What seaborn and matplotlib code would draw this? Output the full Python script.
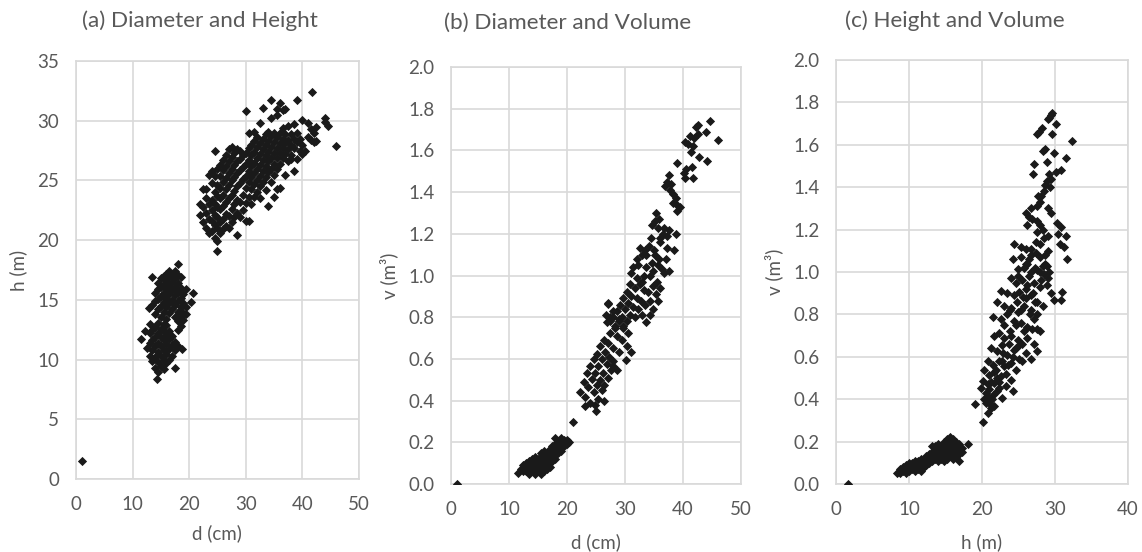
import numpy as np
import pandas as pd
import matplotlib
matplotlib.use("Agg")
import matplotlib.pyplot as plt
import seaborn as sns

# ---------------- (a) diameter vs height ----------------
a_d = [1.0,
       # tall trees
       22, 22, 22.5, 22.5, 22.5, 23, 23, 23, 23, 23.5, 23.5, 23.5, 23.5,
       24, 24, 24, 24, 24, 24, 24.5, 24.5, 24.5, 24.5, 24.5, 24.5, 24.5,
       25, 25, 25, 25, 25, 25, 25, 25, 25.5, 25.5, 25.5, 25.5, 25.5, 25.5, 25.5,
       26, 26, 26, 26, 26, 26, 26, 26.5, 26.5, 26.5, 26.5, 26.5, 26.5, 26.5,
       27, 27, 27, 27, 27, 27, 27, 27.5, 27.5, 27.5, 27.5, 27.5, 27.5, 27.5,
       28, 28, 28, 28, 28, 28, 28.5, 28.5, 28.5, 28.5, 28.5, 28.5, 28.5,
       29, 29, 29, 29, 29, 29, 29.5, 29.5, 29.5, 29.5, 29.5,
       30, 30, 30, 30, 30, 30, 30, 30.5, 30.5, 30.5, 30.5, 30.5, 30.5, 30.5,
       31, 31, 31, 31, 31, 31, 31.5, 31.5, 31.5, 31.5, 31.5, 31.5, 31.5,
       32, 32, 32, 32, 32, 32, 32.5, 32.5, 32.5, 32.5, 32.5, 32.5, 32.5,
       33, 33, 33, 33, 33, 33, 33.5, 33.5, 33.5, 33.5, 33.5, 33.5,
       34, 34, 34, 34, 34, 34, 34.5, 34.5, 34.5, 34.5, 34.5, 34.5, 34.5,
       35, 35, 35, 35, 35, 35, 35.5, 35.5, 35.5, 35.5, 35.5, 35.5, 35.5,
       36, 36, 36, 36, 36, 36, 36.5, 36.5, 36.5, 36.5, 36.5,
       37, 37, 37, 37, 37, 37.5, 37.5, 37.5, 37.5, 38, 38, 38, 38,
       38.5, 38.5, 38.5, 38.5, 39, 39, 39, 39, 39.5, 39.5, 40, 40, 40, 40.5,
       41, 41, 41.5, 41.5, 41.7, 42, 42, 42.5, 42.5, 44, 44, 44.6, 46,
       # short trees, upper group
       12.9, 13.5, 13.5, 14, 14, 14, 14.5, 14.5, 14.5, 14.5,
       15, 15, 15, 15, 15, 15.5, 15.5, 15.5, 15.5, 15.5,
       16, 16, 16, 16, 16, 16, 16.5, 16.5, 16.5, 16.5, 16.5, 16.5,
       17, 17, 17, 17, 17, 17.5, 17.5, 17.5, 17.5, 17.5, 17.5,
       18, 18, 18, 18, 18, 18, 18, 18.5, 18.5, 18.5, 18.5, 18.5, 18.5,
       19, 19, 19, 19, 19.5, 19.5, 19.5, 20.3, 20.6,
       # short trees, lower group
       11.5, 12.2, 12.5, 13, 13, 13, 13, 13.5, 13.5, 13.5, 13.5,
       14, 14, 14, 14, 14, 14.4, 14.5, 14.5, 14.5, 14.5, 14.5, 14.5,
       15, 15, 15, 15, 15, 15.5, 15.5, 15.5, 15.5, 15.5, 15.5,
       16, 16, 16, 16, 16, 16.5, 16.5, 16.5, 16.5, 17, 17, 17,
       17.5, 17.5, 17.5, 18, 18, 18.7]
a_h = [1.5,
       22.1, 23.0, 21.5, 22.8, 24.3, 21.0, 22.3, 23.5, 24.3, 20.6, 21.8, 23.0, 25.5,
       20.8, 21.6, 22.5, 23.4, 24.8, 25.8, 20.2, 21.3, 22.1, 23.0, 24.0, 25.4, 27.5,
       19.1, 19.9, 21.0, 21.9, 22.8, 23.7, 24.6, 26.0, 20.6, 21.5, 22.6, 23.5, 24.4, 25.4, 26.3,
       20.9, 21.8, 22.9, 23.8, 24.9, 25.9, 26.7, 21.2, 22.2, 23.2, 24.3, 25.2, 26.2, 27.1,
       21.0, 22.0, 23.5, 24.6, 25.6, 26.6, 27.6, 21.5, 22.6, 23.8, 25.0, 26.0, 27.0, 27.8,
       21.9, 23.0, 24.1, 25.3, 26.3, 27.3, 20.4, 22.3, 23.4, 24.5, 25.6, 26.6, 27.6,
       21.9, 23.2, 24.8, 25.9, 26.8, 27.5, 22.5, 23.8, 25.1, 26.1, 27.1,
       21.6, 23.1, 24.4, 25.4, 26.4, 27.3, 30.8, 21.6, 23.6, 24.9, 25.8, 26.7, 27.7, 29.0,
       23.0, 24.3, 25.3, 26.2, 27.1, 28.0, 23.6, 24.7, 25.6, 26.5, 27.4, 28.3, 29.1,
       24.0, 25.0, 26.0, 26.9, 27.8, 28.6, 23.5, 24.5, 25.4, 26.3, 27.2, 28.1, 29.8,
       24.9, 25.8, 26.7, 27.6, 28.5, 31.1, 24.2, 25.3, 26.2, 27.1, 28.0, 28.9,
       22.9, 25.7, 26.6, 27.4, 28.3, 29.1, 24.9, 26.0, 26.9, 27.8, 28.7, 31.7, 30.2,
       23.6, 25.5, 26.4, 27.3, 28.2, 29.0, 24.3, 26.0, 26.9, 27.7, 28.6, 30.5, 31.0,
       24.4, 26.4, 27.3, 28.1, 29.0, 31.5, 26.9, 27.7, 28.5, 29.4, 30.9,
       25.5, 27.2, 28.1, 28.9, 31.0, 26.6, 27.6, 28.4, 29.6, 27.1, 28.0, 28.9, 26.8,
       25.8, 27.7, 28.5, 29.7, 26.8, 28.2, 29.0, 31.7, 27.5, 28.5, 27.2, 28.0, 30.1, 27.5,
       28.6, 29.8, 28.4, 29.3, 32.4, 28.2, 29.0, 28.3, 29.5, 30.2, 29.9, 29.6, 27.9,
       14.3, 14.6, 16.9, 13.8, 14.9, 15.6, 14.2, 15.1, 15.9, 16.4,
       13.6, 14.5, 15.3, 16.1, 16.8, 14.0, 14.8, 15.6, 16.3, 17.0,
       13.4, 14.4, 15.2, 15.9, 16.6, 17.2, 13.9, 14.7, 15.5, 16.2, 16.9, 17.4,
       14.2, 15.0, 15.8, 16.5, 17.2, 13.6, 14.6, 15.4, 16.1, 16.8, 17.4,
       13.2, 14.0, 14.9, 15.7, 16.4, 17.1, 18.0, 12.8, 13.6, 14.4, 15.2, 16.0, 16.9,
       13.3, 13.9, 14.7, 15.5, 13.8, 15.9, 14.4, 14.8, 15.6,
       11.7, 12.4, 11.0, 10.3, 11.4, 12.2, 13.0, 9.9, 10.8, 11.6, 12.5,
       9.3, 10.2, 11.1, 11.9, 12.7, 8.4, 9.0, 9.8, 10.6, 11.4, 12.2, 13.1,
       9.5, 10.3, 11.1, 11.9, 12.6, 9.2, 10.0, 10.8, 11.6, 12.4, 13.0,
       9.7, 10.5, 11.3, 12.1, 12.9, 10.0, 10.9, 11.7, 12.4, 10.3, 11.2, 12.0,
       9.3, 10.8, 11.5, 11.1, 12.5, 10.9]

# ---------------- (b) diameter vs volume ----------------
b_d = [1.0,
       44.7, 46.0, 42.5, 42.2, 42.6, 44.0, 41.2, 41.9, 40.3, 40.9, 41.7, 41.3, 42.8, 44.2,
       39.0, 40.5, 41.5, 40.2, 40.3, 41.7, 37.5, 37.2, 37.9, 36.9, 37.8, 38.3, 38.8, 39.4,
       38.2, 38.9, 39.0, 35.3, 35.9, 35.2, 34.6, 35.6, 36.7, 37.5, 36.6, 38.8, 37.2, 36.0,
       34.4, 34.2, 35.0, 33.7, 36.1, 32.6, 33.4, 32.9, 35.2, 35.9, 37.2, 38.4,
       34.6, 35.7, 34.9, 36.3, 37.1, 36.7, 37.6, 33.7, 34.3, 33.2, 32.0, 32.3, 31.4,
       31.1, 32.0, 32.9, 35.5, 36.0, 34.8, 33.9, 35.4, 32.6, 31.7, 30.9, 33.3,
       34.3, 35.7, 33.4, 34.9, 30.3, 31.1, 32.0, 32.7, 29.7, 30.6, 31.4, 32.3, 33.0,
       29.1, 30.0, 30.9, 31.7, 34.3, 33.6, 28.6, 29.4, 30.3, 28.0, 28.9, 29.7, 27.4, 28.3,
       27.1, 26.8,
       27.1, 28.0, 27.4, 28.9, 26.9, 28.3, 29.7, 30.6, 27.4, 28.6, 29.4, 30.3, 31.1, 30.2,
       26.4, 27.1, 28.0, 28.9, 28.6, 28.0, 25.7, 26.6, 27.3, 28.0, 25.1, 26.0, 26.9, 27.5,
       24.6, 25.4, 26.2, 27.0, 24.0, 24.9, 25.7, 26.4, 23.4, 24.3, 25.1, 26.0,
       23.0, 22.2, 23.7, 24.6, 25.4, 26.3, 23.1, 23.9, 24.9, 23.1, 25.0, 21.1,
       11.5, 12.0, 12.5, 12.5, 13, 13, 13, 13.5, 13.5, 13.5, 13.5, 14, 14, 14, 14,
       14.5, 14.5, 14.5, 14.5, 14.5, 15, 15, 15, 15, 15.5, 15.5, 15.5, 15.5, 15.5, 15.5,
       16, 16, 16, 16, 16, 16, 16.5, 16.5, 16.5, 16.5, 16.5, 17, 17, 17, 17, 17,
       17.5, 17.5, 17.5, 17.5, 18, 18, 18, 18, 18, 18.5, 18.5, 18.5, 19, 19, 19,
       19.5, 19.5, 20, 20, 20.4]
b_v = [0.0,
       1.74, 1.65, 1.72, 1.71, 1.68, 1.69, 1.67, 1.66, 1.64, 1.63, 1.62, 1.59, 1.57, 1.55,
       1.54, 1.51, 1.52, 1.49, 1.47, 1.47, 1.48, 1.45, 1.44, 1.43, 1.41, 1.39, 1.37, 1.33,
       1.35, 1.34, 1.31, 1.30, 1.27, 1.26, 1.24, 1.23, 1.23, 1.22, 1.20, 1.20, 1.19, 1.18,
       1.18, 1.14, 1.12, 1.10, 1.16, 1.13, 1.12, 1.10, 1.10, 1.08, 1.13, 1.12,
       1.06, 1.05, 1.02, 1.03, 1.08, 1.01, 1.02, 1.04, 0.996, 0.996, 1.08, 1.05, 1.04,
       1.01, 0.99, 0.97, 0.97, 0.94, 0.95, 0.92, 0.91, 0.96, 0.94, 0.96, 0.93,
       0.88, 0.88, 0.86, 0.84, 0.92, 0.90, 0.89, 0.88, 0.89, 0.87, 0.85, 0.84, 0.81,
       0.86, 0.84, 0.81, 0.80, 0.81, 0.775, 0.83, 0.80, 0.78, 0.80, 0.78, 0.76, 0.78, 0.75,
       0.87, 0.81,
       0.864, 0.83, 0.80, 0.79, 0.775, 0.76, 0.75, 0.725, 0.725, 0.71, 0.69, 0.66, 0.633, 0.596,
       0.69, 0.675, 0.65, 0.633, 0.549, 0.566, 0.66, 0.633, 0.608, 0.59, 0.624, 0.599, 0.574, 0.549,
       0.599, 0.566, 0.532, 0.507, 0.566, 0.532, 0.499, 0.474, 0.532, 0.502, 0.474, 0.449,
       0.49, 0.44, 0.465, 0.44, 0.407, 0.398, 0.415, 0.39, 0.38, 0.373, 0.348, 0.298,
       0.055, 0.07, 0.06, 0.09, 0.06, 0.08, 0.10, 0.05, 0.07, 0.09, 0.11, 0.06, 0.08, 0.10, 0.12,
       0.05, 0.07, 0.09, 0.11, 0.13, 0.06, 0.08, 0.10, 0.12, 0.05, 0.07, 0.09, 0.11, 0.13, 0.15,
       0.06, 0.08, 0.10, 0.12, 0.14, 0.16, 0.07, 0.09, 0.11, 0.13, 0.15, 0.08, 0.10, 0.12, 0.14, 0.17,
       0.11, 0.13, 0.15, 0.18, 0.12, 0.14, 0.16, 0.19, 0.22, 0.15, 0.17, 0.20, 0.16, 0.19, 0.22,
       0.18, 0.21, 0.19, 0.21, 0.20]

# ---------------- (c) height vs volume ----------------
c_h = [1.6,
       29.5, 29.2, 29.0, 29.6, 30.2, 28.2, 27.8, 27.6, 29.6, 32.3, 28.7, 28.3, 29.9, 31.5,
       27.1, 27.0, 28.9, 30.8, 30.1, 29.5, 29.2, 28.9, 28.7, 28.5, 29.3,
       28.1, 27.9, 27.5, 27.7, 26.7, 26.0, 26.5, 26.9, 26.2, 29.0, 29.5,
       27.6, 27.9, 28.3, 27.6, 30.3, 30.8, 31.5, 30.4, 30.7, 31.2, 31.6,
       24.4, 25.3, 26.0, 26.7, 27.4, 28.0, 28.5, 29.0,
       24.2, 25.3, 26.0, 26.7, 27.4, 28.0, 28.7, 28.3, 29.0,
       26.2, 28.9, 29.2,
       24.9, 25.8, 26.7, 27.6, 28.5, 29.0,
       24.0, 24.6, 25.5, 26.2, 27.1, 28.0, 28.9,
       31.0, 30.8, 29.9, 29.4,
       22.6, 23.5, 24.4, 25.1, 26.0, 26.7, 27.6, 28.3,
       22.1, 23.0, 24.0, 24.9, 25.8, 26.7, 27.6, 27.1, 21.5,
       22.6, 23.5, 24.4, 25.3, 26.2, 26.8, 27.6, 28.0,
       21.7, 22.4, 23.0, 24.0, 24.9, 25.5, 26.2, 27.1, 27.6,
       21.2, 22.1, 22.8, 23.5, 24.4, 25.1, 26.0, 26.7,
       20.8, 21.5, 22.4, 23.0, 24.0, 24.6, 25.5,
       20.3, 21.0, 21.7, 22.6, 23.3, 24.0,
       20.1, 20.8, 21.7, 22.4, 23.3, 24.2,
       19.9, 20.5, 21.5, 22.1, 22.8, 20.3, 21.0, 21.7, 20.8,
       19.0, 20.8, 21.2, 20.2,
       23.0, 23.8, 24.8, 25.6, 26.4, 27.2, 25.0, 24.2, 22.9, 21.9, 21.3,
       22.0, 23.6, 24.6, 25.8, 26.6, 27.3, 28.1, 28.6, 26.1, 25.4, 24.6,
       23.7, 22.7, 21.0, 20.6, 21.4, 22.3, 23.9, 25.0, 26.4, 27.0, 27.9,
       8.3, 8.8, 8.8, 9.2, 9.2, 9.6, 9.6, 9.6, 10, 10, 10, 10.4, 10.4, 10.4,
       10.8, 10.8, 10.8, 10.8, 11.2, 11.2, 11.2, 11.6, 11.6, 11.6, 11.6,
       12.0, 12.0, 12.0, 12.4, 12.4, 12.4, 12.8, 12.8, 12.8,
       13.2, 13.2, 13.2, 13.2, 13.6, 13.6, 13.6, 13.6, 14.0, 14.0, 14.0, 14.0, 14.0,
       14.4, 14.4, 14.4, 14.4, 14.8, 14.8, 14.8, 14.8, 14.8, 15.2, 15.2, 15.2, 15.2, 15.2,
       15.6, 15.6, 15.6, 15.6, 15.6, 16.0, 16.0, 16.0, 16.0, 16.0, 16.4, 16.4, 16.4, 16.4,
       16.8, 16.8, 16.8, 16.8, 17.2, 17.2, 18.1]
c_v = [0.0,
       1.74, 1.725, 1.72, 1.75, 1.70, 1.68, 1.66, 1.65, 1.65, 1.62, 1.58, 1.57, 1.56, 1.54,
       1.51, 1.46, 1.52, 1.48, 1.47, 1.44, 1.46, 1.43, 1.41, 1.38, 1.40,
       1.36, 1.33, 1.31, 1.36, 1.30, 1.28, 1.26, 1.25, 1.22, 1.30, 1.28,
       1.24, 1.22, 1.20, 1.19, 1.23, 1.21, 1.17, 1.18, 1.13, 1.12, 1.06,
       1.13, 1.12, 1.11, 1.11, 1.14, 1.13, 1.16, 1.17,
       1.06, 1.07, 1.04, 1.08, 1.09, 1.07, 1.04, 1.03, 1.10,
       1.04, 1.03, 1.0,
       1.016, 1.02, 1.0, 1.01, 0.99, 0.97,
       0.97, 0.95, 0.96, 0.94, 0.95, 0.93, 0.94,
       0.906, 0.867, 0.867, 0.90,
       0.91, 0.90, 0.89, 0.906, 0.875, 0.89, 0.86, 0.84,
       0.86, 0.84, 0.83, 0.81, 0.84, 0.82, 0.80, 0.78, 0.79,
       0.78, 0.80, 0.77, 0.76, 0.74, 0.73, 0.73, 0.72,
       0.70, 0.71, 0.69, 0.70, 0.68, 0.66, 0.69, 0.66, 0.625,
       0.64, 0.625, 0.656, 0.61, 0.63, 0.59, 0.62, 0.59,
       0.58, 0.56, 0.58, 0.555, 0.57, 0.54, 0.58,
       0.54, 0.516, 0.53, 0.51, 0.52, 0.49,
       0.484, 0.47, 0.477, 0.453, 0.46, 0.44,
       0.453, 0.43, 0.42, 0.44, 0.406, 0.40, 0.38, 0.367, 0.41,
       0.375, 0.336, 0.36, 0.294,
       0.75, 0.72, 0.86, 0.88, 0.98, 1.02, 0.65, 0.60, 0.62, 0.54, 0.48,
       0.50, 0.56, 0.64, 0.72, 0.80, 0.86, 0.96, 1.08, 0.92, 0.82, 0.75,
       0.66, 0.58, 0.45, 0.38, 0.40, 0.48, 0.82, 0.98, 1.06, 0.90, 1.00,
       0.05, 0.05, 0.07, 0.06, 0.08, 0.05, 0.07, 0.09, 0.06, 0.08, 0.10, 0.07, 0.09, 0.10,
       0.06, 0.08, 0.10, 0.11, 0.07, 0.09, 0.11, 0.06, 0.08, 0.10, 0.12,
       0.08, 0.10, 0.12, 0.09, 0.11, 0.13, 0.10, 0.12, 0.14,
       0.11, 0.13, 0.15, 0.18, 0.12, 0.14, 0.16, 0.18, 0.11, 0.13, 0.15, 0.17, 0.19,
       0.12, 0.14, 0.16, 0.18, 0.11, 0.13, 0.15, 0.17, 0.20, 0.12, 0.14, 0.16, 0.18, 0.21,
       0.13, 0.15, 0.17, 0.19, 0.22, 0.12, 0.14, 0.16, 0.18, 0.21, 0.13, 0.15, 0.17, 0.20,
       0.11, 0.14, 0.16, 0.19, 0.15, 0.17, 0.19]

titles = ["(a) Diameter and Height", "(b) Diameter and Volume", "(c) Height and Volume"]
x_labels = ["d (cm)", "d (cm)", "h (m)"]
y_labels = ["h (m)", "v (m³)", "v (m³)"]

sns.set_theme(style="white")
plt.rcParams["font.family"] = ["Lato", "DejaVu Sans"]

TEXT = "#595959"
GRID = "#d9d9d9"
MARK = "#1a1a1a"

fig = plt.figure(figsize=(11.42, 5.52), dpi=100)
axes_rect = [
    [0.0665, 0.1322, 0.2478, 0.7572],
    [0.3949, 0.1232, 0.2540, 0.7554],
    [0.7320, 0.1232, 0.2557, 0.7681],
]
frames = [
    pd.DataFrame({"x": a_d, "y": a_h}),
    pd.DataFrame({"x": b_d, "y": b_v}),
    pd.DataFrame({"x": c_h, "y": c_v}),
]
xlims = [(0, 50), (0, 50), (0, 40)]
ylims = [(0, 35), (0, 2.0), (0, 2.0)]
xticks = [np.arange(0, 51, 10), np.arange(0, 51, 10), np.arange(0, 41, 10)]
yticks = [np.arange(0, 36, 5), np.arange(0, 2.01, 0.2), np.arange(0, 2.01, 0.2)]
yfmt = ["{:.0f}", "{:.1f}", "{:.1f}"]
xlab_pad = [8, 11, 11]

for i in range(3):
    ax = fig.add_axes(axes_rect[i])
    sns.scatterplot(data=frames[i], x="x", y="y", ax=ax, marker="D", s=22,
                    color=MARK, linewidth=0, zorder=3, legend=False)
    ax.set_xlim(*xlims[i])
    ax.set_ylim(*ylims[i])
    ax.set_xticks(xticks[i])
    ax.set_yticks(yticks[i])
    ax.set_xticklabels([f"{t:.0f}" for t in xticks[i]])
    ax.set_yticklabels([yfmt[i].format(t) for t in yticks[i]])
    ax.grid(True, color=GRID, linewidth=1.2, zorder=0)
    for sp in ax.spines.values():
        sp.set_color(GRID)
        sp.set_linewidth(1.2)
    ax.tick_params(axis="both", length=0, labelsize=13.5, colors=TEXT)
    ax.tick_params(axis="x", pad=12)
    ax.tick_params(axis="y", pad=12)
    ax.set_xlabel(x_labels[i], fontsize=13.5, color=TEXT, labelpad=xlab_pad[i])
    ax.set_ylabel(y_labels[i], fontsize=13.5, color=TEXT, labelpad=7)

fig.text(0.175, 0.962, titles[0], ha="center", va="center", fontsize=16.2, color=TEXT)
fig.text(0.497, 0.958, titles[1], ha="center", va="center", fontsize=16.2, color=TEXT)
fig.text(0.836, 0.962, titles[2], ha="center", va="center", fontsize=16.2, color=TEXT)

fig.savefig("out.png", dpi=100, facecolor="white")
